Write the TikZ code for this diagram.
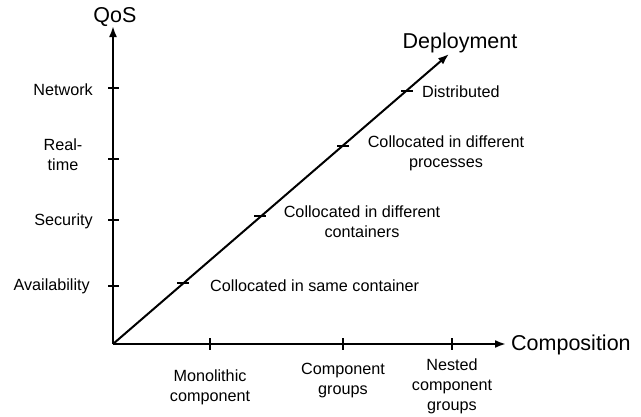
\documentclass[tikz,border=0pt]{standalone}
\usepackage{fontspec}
\setmainfont{Liberation Sans}
\usepackage{tikz}
\usetikzlibrary{arrows.meta,positioning,calc}

\tikzset{
  axis/.style={line width=2pt, -{Latex[length=11pt,width=8pt]}},
  tick/.style={line width=1.6pt},
  lbl/.style={inner sep=0pt, align=center, font=\fontsize{16.2}{20}\selectfont},
  axlbl/.style={inner sep=0pt, font=\fontsize{21.5}{24}\selectfont}
}

\begin{document}
\begin{tikzpicture}[x=1pt, y=-1pt]
                    \useasboundingbox (0,0) rectangle (641,416);
                    % axes
                    \coordinate (O) at (113,344);
                    \coordinate (qtop) at (113,26);
                    \coordinate (ctop) at (506,344);
                    \coordinate (dtop) at (449,54);
                    \draw[axis] (O) -- (qtop);
                    \draw[axis] (O) -- (ctop);
                    \draw[axis] (O) -- (dtop);
                    \node[axlbl] (qos) at (115,17) {QoS};
                    \node[axlbl, anchor=west] (comp) at (511,345) {Composition};
                    \node[axlbl] (depl) at (460,43) {Deployment};
                    % QoS ticks
                    \foreach \y in {88,159,220,286} \draw[tick] (108,\y) -- (119,\y);
                    \node[lbl, anchor=east] (net) at (93,90) {Network};
                    \node[lbl] (rt) at (63,155) {Real-\\time};
                    \node[lbl, anchor=east] (sec) at (93,221) {Security};
                    \node[lbl, anchor=east] (avail) at (90,286) {Availability};
                    % composition ticks
                    \foreach \x in {210,343,452} \draw[tick] (\x,338) -- (\x,350);
                    \node[lbl] (mono) at (210,387) {Monolithic\\component};
                    \node[lbl] (grp) at (343,381) {Component\\groups};
                    \node[lbl] (nest) at (452,386) {Nested\\component\\groups};
                    % deployment ticks
                    \foreach \x/\y in {183/283,260/216,343/146,407/91} \draw[tick] (\x-6,\y) -- (\x+6,\y);
                    \node[lbl, anchor=west] (same) at (210,286) {Collocated in same container};
                    \node[lbl] (cont) at (362,222) {Collocated in different\\containers};
                    \node[lbl] (proc) at (446,153) {Collocated in different\\processes};
                    \node[lbl, anchor=west] (dist) at (422,92) {Distributed};
                \end{tikzpicture}
\end{document}
